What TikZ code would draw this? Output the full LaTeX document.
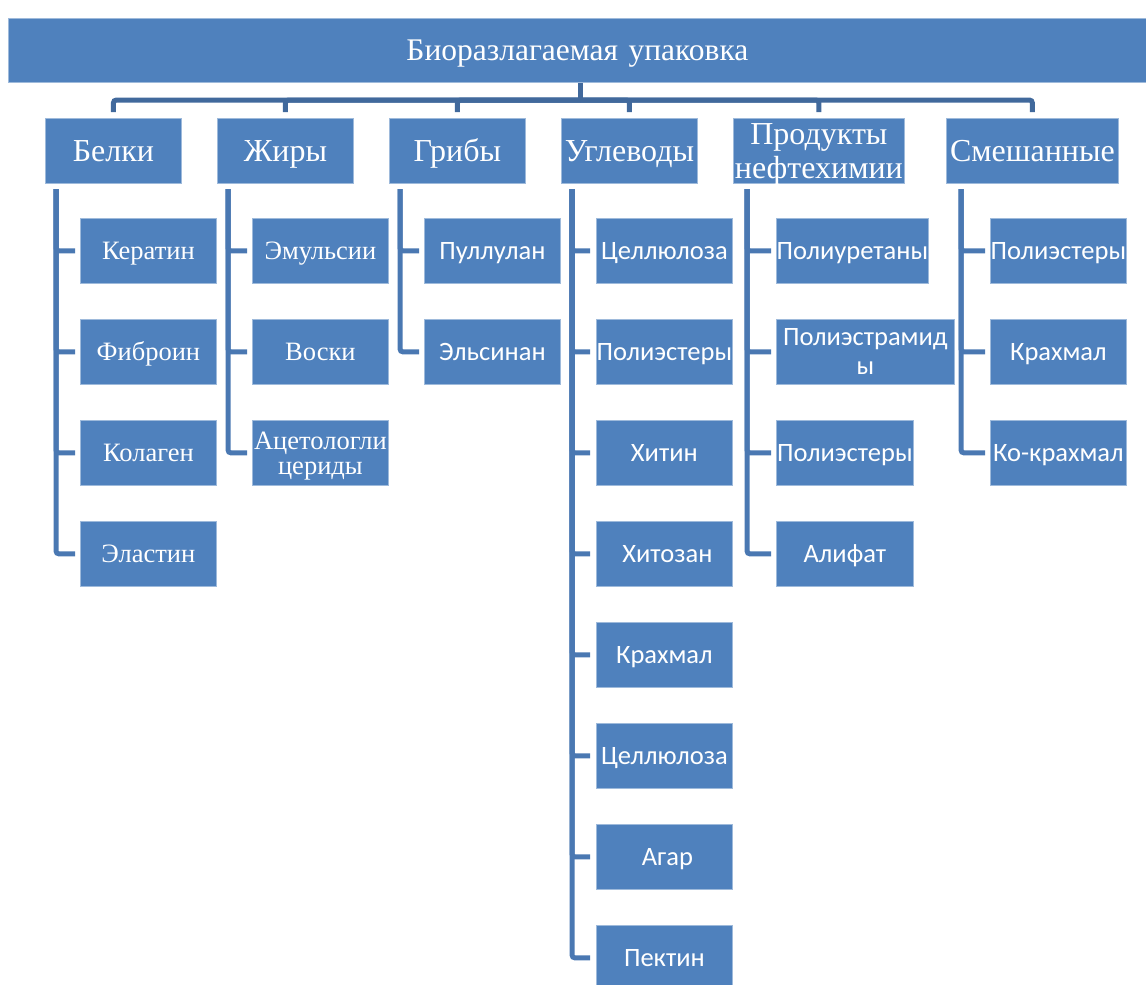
\documentclass[tikz,border=0pt]{standalone}
\usepackage{fontspec}
\setmainfont{Liberation Serif}
\newfontfamily\sansf{Carlito}
\definecolor{boxblue}{HTML}{4F81BD}
\definecolor{linkblue}{HTML}{4A78B2}
\definecolor{busblue}{HTML}{41699C}
\tikzset{
 mystrut/.style 2 args={execute at begin node={\rule{0pt}{#1}}, execute at end node={\rule[-#2]{0pt}{#2}}},
 box/.style={fill=boxblue, draw=boxblue!55!white, line width=0.8pt, text=white, inner sep=0pt, anchor=north west, align=center, minimum height=65pt},
 cat/.style={box, font=\fontsize{32}{34}\selectfont, mystrut={29pt}{8pt}},
 catlabel/.style={text=white, inner sep=0pt, align=center, font=\fontsize{32}{34}\selectfont, mystrut={29pt}{8pt}, yshift=-4pt},
 leafserif/.style={box, text width=136pt, font=\fontsize{26.5}{25}\selectfont, mystrut={25pt}{7pt}},
 leafsans/.style={box, text width=136pt, font=\sansf\fontsize{26.5}{29}\selectfont, mystrut={24pt}{7pt}},
 conn/.style={draw=linkblue, line width=5pt, rounded corners=3pt, shorten >=5pt},
 busline/.style={draw=busblue, line width=5pt, rounded corners=3pt},
}
\begin{document}
\begin{tikzpicture}[x=1pt,y=-1pt]
\useasboundingbox (0,0) rectangle (1146,985);
\node[box, text width=1138pt, minimum height=64pt, font=\fontsize{31.5}{32}\selectfont, mystrut={28pt}{8pt}] (root) at (8,18) {Биоразлагаемая упаковка};
% categories
\node[cat, text width=136pt] (c1) at (45,118) {Белки};
\node[cat, text width=136pt] (c2) at (217,118) {Жиры};
\node[cat, text width=136pt] (c3) at (389,118) {Грибы};
\node[cat, text width=136pt] (c4) at (561,118) {Углеводы};
\node[box, minimum width=171pt, label={[catlabel]center:{Продукты\\нефтехимии}}] (c5) at (733,118) {};
\node[cat, text width=172pt] (c6) at (946,118) {Смешанные};
% bus
\coordinate (bus) at (580,100);
\draw[busline] (root.south -| bus) -- (bus);
\foreach \c in {c1,c2,c3,c4,c5,c6}{
  \draw[busline, shorten >=6pt] (bus) -| (\c.north);
}
% Белки
\node[leafserif] (a1) at (80,218) {Кератин};
\node[leafserif] (a2) at (80,319) {Фиброин};
\node[leafserif] (a3) at (80,420) {Колаген};
\node[leafserif] (a4) at (80,521) {Эластин};
\coordinate (v1) at (56,189);
\foreach \n in {a1,a2,a3,a4}{\draw[conn] (v1) |- (\n.west);}
% Жиры
\node[leafserif] (b1) at (252,218) {Эмульсии};
\node[leafserif] (b2) at (252,319) {Воски};
\node[leafserif] (b3) at (252,420) {Ацетологли\\цериды};
\coordinate (v2) at (228,189);
\foreach \n in {b1,b2,b3}{\draw[conn] (v2) |- (\n.west);}
% Грибы
\node[leafsans] (g1) at (424,218) {Пуллулан};
\node[leafsans] (g2) at (424,319) {Эльсинан};
\coordinate (v3) at (400,189);
\foreach \n in {g1,g2}{\draw[conn] (v3) |- (\n.west);}
% Углеводы
\node[leafsans] (u1) at (596,218) {Целлюлоза};
\node[leafsans] (u2) at (596,319) {Полиэстеры};
\node[leafsans] (u3) at (596,420) {Хитин};
\node[leafsans] (u4) at (596,521) {\hspace*{6pt}Хитозан};
\node[leafsans] (u5) at (596,622) {Крахмал};
\node[leafsans] (u6) at (596,723) {Целлюлоза};
\node[leafsans] (u7) at (596,824) {\hspace*{6pt}Агар};
\node[leafsans] (u8) at (596,925) {Пектин};
\coordinate (v4) at (572,189);
\foreach \n in {u1,u2,u3,u4,u5,u6,u7,u8}{\draw[conn, shorten >=6pt] (v4) |- (\n.west);}
% Продукты нефтехимии
\node[leafsans, text width=152pt] (p1) at (776,218) {Полиуретаны};
\node[leafsans, text width=178pt] (p2) at (776,319) {Полиэстрамид\\ы};
\node[leafsans, text width=137pt] (p3) at (776,420) {Полиэстеры};
\node[leafsans, text width=137pt] (p4) at (776,521) {Алифат};
\coordinate (v5) at (747,189);
\foreach \n in {p1,p2,p3,p4}{\draw[conn] (v5) |- (\n.west);}
% Смешанные
\node[leafsans] (s1) at (990,218) {Полиэстеры};
\node[leafsans] (s2) at (990,319) {Крахмал};
\node[leafsans] (s3) at (990,420) {Ко-крахмал};
\coordinate (v6) at (961,189);
\foreach \n in {s1,s2,s3}{\draw[conn] (v6) |- (\n.west);}
\end{tikzpicture}
\end{document}
